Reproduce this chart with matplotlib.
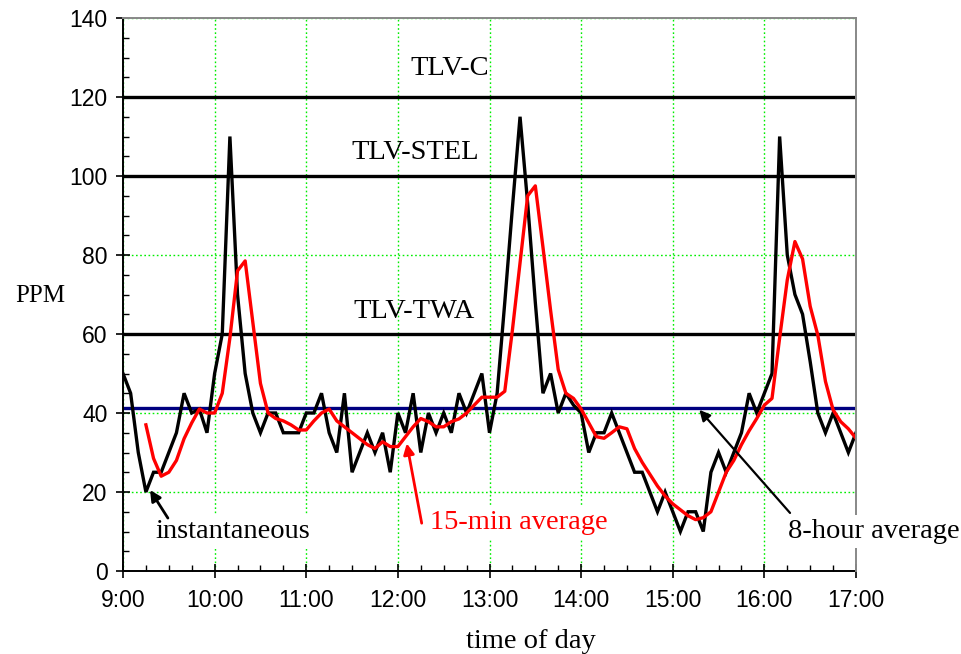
import numpy as np
import matplotlib
matplotlib.use("Agg")
import matplotlib.pyplot as plt
from matplotlib.ticker import MultipleLocator, FixedLocator

# ---------------- data ----------------
start_hour = 9.0
step_min = 5  # sampling interval of readings (minutes)

instantaneous = [
    50, 45, 30, 20, 25, 25, 30, 35, 45, 40, 41, 35,          # 9:00-9:55
    50, 60, 110, 70, 50, 40, 35, 40, 40, 35, 35, 35,         # 10:00-10:55
    40, 40, 45, 35, 30, 45, 25, 30, 35, 30, 35, 25,          # 11:00-11:55
    40, 35, 45, 30, 40, 35, 40, 35, 45, 40, 45, 50,          # 12:00-12:55
    35, 45, 68, 92, 115, 93, 68, 45, 50, 40, 45, 42,         # 13:00-13:55
    40, 30, 35, 35, 40, 35, 30, 25, 25, 20, 15, 20,          # 14:00-14:55
    15, 10, 15, 15, 10, 25, 30, 25, 30, 35, 45, 40,          # 15:00-15:55
    45, 50, 110, 80, 70, 65, 53, 40, 35, 40, 35, 30,         # 16:00-16:55
    35,                                                      # 17:00
]

avg15_start_hour = 9.25
avg15 = [
    37, 28.5, 24, 25, 28, 33.5, 37.5, 41, 40,                # 9:15-9:55
    40, 45, 59, 76, 78.5, 63, 47.5, 40, 38.6, 38, 37, 35.7,  # 10:00-10:55
    35.7, 38, 40, 41, 38, 36.5, 35, 33.5, 32, 31, 32.7, 31.5,  # 11:00-11:55
    31.5, 34, 36.5, 38.6, 37.8, 36.5, 36.5, 37.8, 38.5, 40, 42, 44,  # 12:00-12:55
    44, 44, 45.5, 61, 78, 95, 97.5, 82, 66, 51, 45, 43.7,    # 13:00-13:55
    41, 37.5, 34, 33.6, 35, 36.5, 36, 31, 27.5, 24.5, 21.5, 19,  # 14:00-14:55
    17, 15.5, 14, 13, 13.5, 15, 20, 25, 28, 32, 35.5, 38.6,  # 15:00-15:55
    42, 43.7, 59, 73.7, 83.4, 79, 67, 59.7, 48, 40.8, 37.8, 36,  # 16:00-16:55
    33.6,                                                    # 17:00
]

eight_hour_avg = 41.2
tlv_levels = [120, 100, 60]
tlv_names = ["TLV-C", "TLV-STEL", "TLV-TWA"]
tlv_label_x = [12.57, 12.19, 12.18]
tlv_label_y = [127.3, 106, 65.8]

x_tick_hours = [9, 10, 11, 12, 13, 14, 15, 16, 17]
x_tick_labels = ["9:00", "10:00", "11:00", "12:00", "13:00", "14:00", "15:00", "16:00", "17:00"]

# ---------------- plot ----------------
t_inst = start_hour + np.arange(len(instantaneous)) * step_min / 60.0
t_avg = avg15_start_hour + np.arange(len(avg15)) * step_min / 60.0

fig = plt.figure(figsize=(9.61, 6.54), dpi=100)
ax = fig.add_axes([123 / 961, 1 - 571 / 654, (856 - 123) / 961, (571 - 18) / 654])

serif = ["Liberation Serif", "DejaVu Serif"]
sans = ["Liberation Sans", "DejaVu Sans"]
fs_text = 20.5

ax.set_xlim(9, 17)
ax.set_ylim(0, 140)

ax.grid(True, which="major", color="#00ee00", linestyle=(0, (1.2, 1.8)), linewidth=1.0, zorder=0)
ax.set_axisbelow(True)

for lvl in tlv_levels:
    ax.axhline(lvl, color="black", linewidth=2.4, zorder=2)
ax.axhline(eight_hour_avg, color="#000080", linewidth=2.4, zorder=2)

ax.plot(t_inst, instantaneous, color="black", linewidth=2.4, zorder=3, solid_joinstyle="miter")
ax.plot(t_avg, avg15, color="#ff0000", linewidth=2.4, zorder=4)

for name, xx, yy in zip(tlv_names, tlv_label_x, tlv_label_y):
    ax.text(xx, yy, name, ha="center", va="center", fontsize=fs_text, family=serif, zorder=5)

box = dict(facecolor="white", edgecolor="none", pad=3)
ax.text(9.35, 10.0, "instantaneous", ha="left", va="center", fontsize=fs_text,
        family=serif, bbox=box, zorder=5, clip_on=False)
ax.annotate("", xy=(9.295, 20.5), xytext=(9.49, 13.4),
            arrowprops=dict(arrowstyle="-|>", color="black", lw=2, mutation_scale=16,
                            shrinkA=0, shrinkB=0), zorder=6)

ax.text(13.32, 12.2, "15-min average", ha="center", va="center", fontsize=fs_text,
        family=serif, color="#ff0000", bbox=box, zorder=5, clip_on=False)
ax.annotate("", xy=(12.097, 32.3), xytext=(12.26, 12.1),
            arrowprops=dict(arrowstyle="-|>", color="#ff0000", lw=2, mutation_scale=16,
                            shrinkA=0, shrinkB=0), zorder=6)

ax.text(17.19, 10.0, "8-hour average", ha="center", va="center", fontsize=fs_text,
        family=serif, bbox=box, zorder=5, clip_on=False)
ax.annotate("", xy=(15.29, 40.8), xytext=(16.28, 14.7),
            arrowprops=dict(arrowstyle="-|>", color="black", lw=1.6, mutation_scale=16,
                            shrinkA=0, shrinkB=0), zorder=6)

# axes styling
ax.spines["left"].set_color("black")
ax.spines["bottom"].set_color("black")
ax.spines["left"].set_linewidth(1.4)
ax.spines["bottom"].set_linewidth(1.4)
ax.spines["right"].set_color("#888888")
ax.spines["top"].set_color("#888888")
ax.spines["right"].set_linewidth(1.4)
ax.spines["top"].set_linewidth(1.4)
ax.spines["right"].set_zorder(4.5)

ax.xaxis.set_major_locator(FixedLocator(x_tick_hours))
ax.set_xticklabels(x_tick_labels)
ax.xaxis.set_minor_locator(MultipleLocator(0.25))
ax.yaxis.set_major_locator(MultipleLocator(20))
ax.yaxis.set_minor_locator(MultipleLocator(5))

ax.tick_params(which="major", direction="inout", length=10, width=1.2, color="black",
               labelsize=16.5, pad=6)
ax.tick_params(which="minor", direction="in", length=4.5, width=1.0, color="black")
ax.tick_params(axis="x", which="major", pad=8)
for lab in ax.get_xticklabels() + ax.get_yticklabels():
    lab.set_family(sans)

fig.text(40 / 961, 1 - 296 / 654, "PPM", ha="center", va="center", fontsize=18, family=serif)
fig.text(531 / 961, 1 - 641 / 654, "time of day", ha="center", va="center", fontsize=fs_text, family=serif)

fig.savefig("out.png", dpi=100)
